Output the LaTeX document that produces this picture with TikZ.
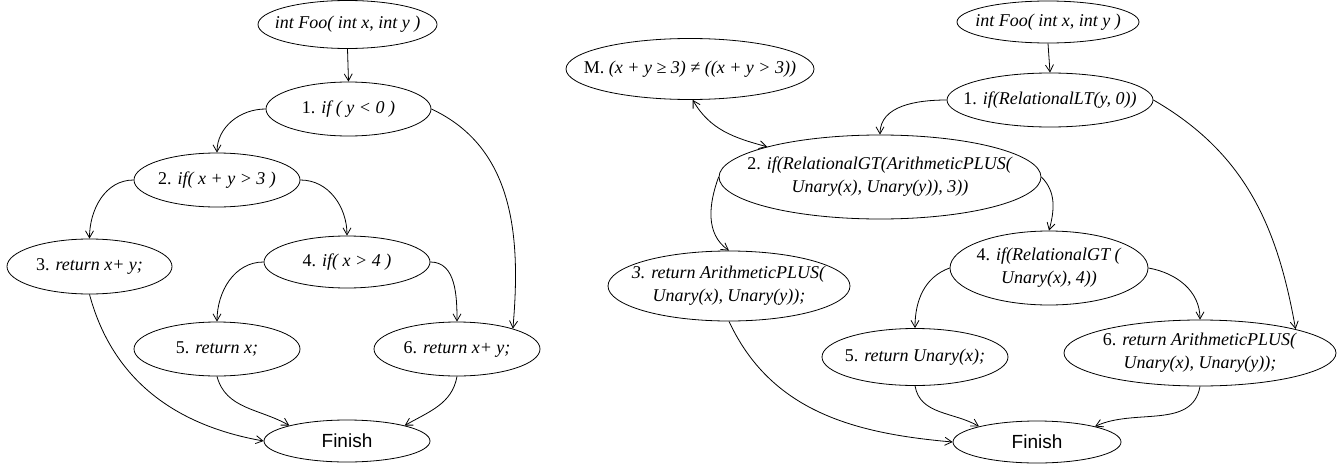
\documentclass[tikz,border=0pt]{standalone}
\usepackage{fontspec}
\setmainfont{Liberation Serif}
\newfontfamily\arialf{Liberation Sans}
\usetikzlibrary{shapes.geometric,arrows.meta}
\tikzset{
  st/.style={ellipse,draw,line width=0.8pt,inner sep=0pt},
  lbl/.style={inner sep=0pt,align=center,font=\fontsize{18}{23}\selectfont},
  fin/.style={inner sep=0pt,font=\arialf\fontsize{19}{23}\selectfont},
  ed/.style={line width=0.8pt,-{Straight Barb[length=7pt,width=8pt]}},
  bied/.style={line width=0.8pt,{Straight Barb[length=7pt,width=8pt]}-{Straight Barb[length=7pt,width=8pt]}}
}
\begin{document}
\begin{tikzpicture}[x=1pt,y=1pt]
\useasboundingbox (0,0) rectangle (1343,-463);
% ---------- left graph ----------
\node[st,minimum width=179pt,minimum height=48pt] (LFoo) at (347.5,-24.5) {};
\node[lbl] (LFoot) at (LFoo) {\textit{int Foo( int x, int y )}};
\node[st,minimum width=165pt,minimum height=54pt] (L1) at (348.5,-109) {};
\node[lbl] (L1t) at (L1) {1. \textit{if ( y < 0 )}};
\node[st,minimum width=166pt,minimum height=54pt] (L2) at (217,-180) {};
\node[lbl] (L2t) at (L2) {2. \textit{if( x + y > 3 )}};
\node[st,minimum width=165pt,minimum height=55pt] (L3) at (89.5,-266.5) {};
\node[lbl] (L3t) at (L3) {3. \textit{return x+ y;}};
\node[st,minimum width=166pt,minimum height=52pt] (L4) at (347,-262) {};
\node[lbl] (L4t) at (L4) {4. \textit{if( x > 4 )}};
\node[st,minimum width=166pt,minimum height=54pt] (L5) at (217,-349) {};
\node[lbl] (L5t) at (L5) {5. \textit{return x;}};
\node[st,minimum width=166pt,minimum height=54pt] (L6) at (457,-349) {};
\node[lbl] (L6t) at (L6) {6. \textit{return x+ y;}};
\node[st,minimum width=166pt,minimum height=42pt] (LF) at (347,-441) {};
\node[fin] (LFt) at (LF) {Finish};
\draw[ed] (LFoo.south) -- (L1.north);
\draw[ed] (L1.west) to[out=180,in=90] (L2.north);
\draw[ed] (L1.east) to[out=-25,in=85] (L6.20);
\draw[ed] (L2.west) to[out=180,in=90] (L3.north);
\draw[ed] (L2.east) to[out=0,in=90] (L4.north);
\draw[ed] (L4.west) to[out=180,in=90] (L5.north);
\draw[ed] (L4.east) to[out=0,in=90] (L6.north);
\draw[ed] (L3.south) to[out=-75,in=170] (LF.west);
\draw[ed] (L5.south) to[out=-75,in=150] (LF.165);
\draw[ed] (L6.south) to[out=-100,in=30] (LF.15);
% ---------- right graph ----------
\node[st,minimum width=182pt,minimum height=42pt] (RFoo) at (1048,-22) {};
\node[lbl] (RFoot) at (RFoo) {\textit{int Foo( int x, int y )}};
\node[st,minimum width=248pt,minimum height=61pt] (M) at (690,-69) {};
\node[lbl] (Mt) at (M) {M. \textit{(x + y ≥ 3) ≠ ((x + y > 3))}};
\node[st,minimum width=206pt,minimum height=54pt] (R1) at (1050,-100) {};
\node[lbl] (R1t) at (R1) {1. \textit{if(RelationalLT(y, 0))}};
\node[st,minimum width=322pt,minimum height=84pt] (R2) at (880,-177) {};
\node[lbl] (R2t) at (R2) {2. \textit{if(RelationalGT(ArithmeticPLUS(}\\\textit{Unary(x), Unary(y)), 3))}};
\node[st,minimum width=242pt,minimum height=70pt] (R3) at (729,-286) {};
\node[lbl] (R3t) at (R3) {\textit{3. return ArithmeticPLUS(}\\\textit{Unary(x), Unary(y));}};
\node[st,minimum width=198pt,minimum height=74pt] (R4) at (1049,-268) {};
\node[lbl] (R4t) at (R4) {4. \textit{if(RelationalGT (}\\\textit{Unary(x), 4))}};
\node[st,minimum width=186pt,minimum height=57pt] (R5) at (915,-357) {};
\node[lbl] (R5t) at (R5) {5. \textit{return Unary(x);}};
\node[st,minimum width=272pt,minimum height=66pt] (R6) at (1200,-353) {};
\node[lbl] (R6t) at (R6) {6. \textit{return ArithmeticPLUS(}\\\textit{Unary(x), Unary(y));}};
\node[st,minimum width=168pt,minimum height=42pt] (RF) at (1037,-442) {};
\node[fin] (RFt) at (RF) {Finish};
\draw[ed] (RFoo.south) -- (R1.north);
\draw[bied] (M.-85) to[out=-60,in=165] (R2.165);
\draw[ed] (R1.west) to[out=180,in=90] (R2.north);
\draw[ed] (R1.east) to[out=-30,in=100] (R6.14);
\draw[ed] (R2.west) to[out=-110,in=145] (R3.north);
\draw[ed] (R2.east) to[out=-45,in=75] (R4.north);
\draw[ed] (R4.west) to[out=200,in=90] (R5.north);
\draw[ed] (R4.east) to[out=-10,in=90] (R6.north);
\draw[ed] (R3.south) to[out=-65,in=175] (RF.west);
\draw[ed] (R5.south) to[out=-80,in=150] (RF.165);
\draw[ed] (R6.south) to[out=-100,in=25] (RF.15);
\end{tikzpicture}
\end{document}
